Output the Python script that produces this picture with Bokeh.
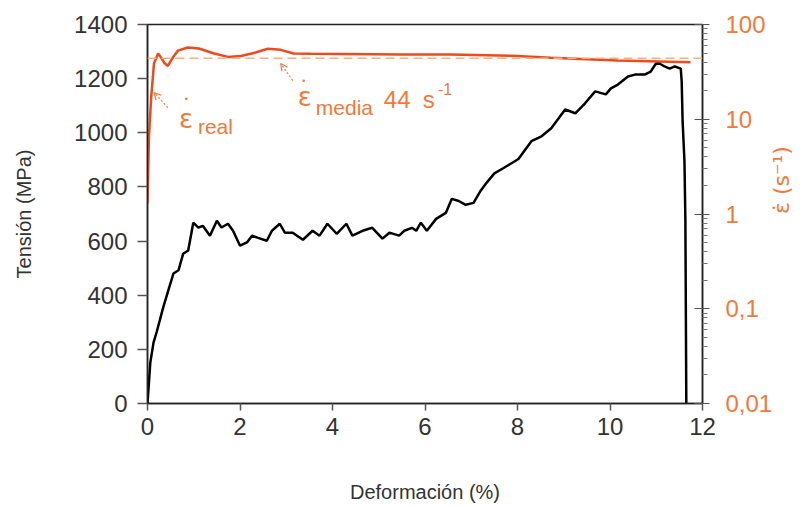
import math
from bokeh.plotting import figure
from bokeh.models import (Range1d, LogScale, LogAxis, FixedTicker, SingleIntervalTicker,
                          CustomJSTickFormatter, Span, Label, Arrow, OpenHead)
from bokeh.embed import file_html
from bokeh.resources import INLINE

# ---- data ----
strain = [0.00, 0.06, 0.13, 0.20, 0.34, 0.45, 0.56, 0.67, 0.77, 0.88,
          0.99, 1.10, 1.20, 1.35, 1.50, 1.60, 1.74, 1.85, 2.00, 2.15,
          2.26, 2.39, 2.58, 2.69, 2.86, 2.97, 3.14, 3.36, 3.57, 3.72,
          3.89, 4.09, 4.30, 4.43, 4.65, 4.86, 5.08, 5.23, 5.44, 5.55,
          5.72, 5.81, 5.91, 6.04, 6.24, 6.45, 6.58, 6.73, 6.88, 7.05,
          7.20, 7.33, 7.50, 7.70, 8.02, 8.30, 8.52, 8.73, 9.03, 9.25,
          9.46, 9.68, 9.91, 10.02, 10.17, 10.39, 10.54, 10.75, 10.88, 10.99,
          11.08, 11.18, 11.29, 11.40, 11.53, 11.55, 11.57, 11.61, 11.63, 11.65]
stress = [0, 150, 225, 265, 355, 418, 480, 492, 553, 565,
          668, 650, 656, 620, 675, 650, 664, 638, 583, 595,
          620, 612, 601, 638, 664, 631, 631, 605, 638, 620,
          664, 627, 664, 620, 638, 649, 609, 631, 620, 638,
          649, 638, 668, 638, 682, 704, 756, 748, 734, 741,
          785, 815, 850, 870, 903, 969, 987, 1017, 1086, 1072,
          1109, 1153, 1142, 1164, 1178, 1208, 1215, 1215, 1226, 1255,
          1255, 1245, 1237, 1245, 1237, 1190, 1042, 895, 675, 0]

rate_strain = [0.00, 0.03, 0.08, 0.14, 0.23, 0.29, 0.36, 0.44, 0.55, 0.66,
               0.87, 1.11, 1.44, 1.74, 2.02, 2.30, 2.60, 2.88, 3.16, 3.53,
               5.48, 6.56, 7.99, 8.72, 10.16, 11.74]
rate = [1.3, 6.4, 17, 38.7, 49.4, 45, 39.5, 36.5, 45, 53,
        57.2, 55.8, 49.4, 45.5, 46.5, 50, 55.4, 54, 49.4, 49,
        48.2, 48.2, 46.6, 44.5, 41.8, 40]

mean_rate = 44
x_ticks_interval = 2
y_ticks_interval = 200
rate_ticks = [0.01, 0.1, 1, 10, 100]
rate_minor = [m * d for d in (0.01, 0.1, 1, 10) for m in range(2, 10)]

FONT = "Liberation Sans"
ORANGE_LINE = "#ee4a1c"
ORANGE_TEXT = "#f07a3a"
DASH = "#f5b07c"

p = figure(width=811, height=507, x_range=Range1d(0, 12), y_range=Range1d(0, 1400),
           output_backend="svg", toolbar_location=None,
           min_border_left=147, min_border_right=109, min_border_top=24, min_border_bottom=104)
p.extra_y_ranges = {"rate": Range1d(0.01, 100)}
p.extra_y_scales = {"rate": LogScale()}

p.grid.visible = False
p.outline_line_color = "#222222"
p.outline_line_width = 1.5
p.background_fill_color = "white"
p.border_fill_color = "white"

# x axis
xa = p.xaxis[0]
xa.ticker = SingleIntervalTicker(interval=x_ticks_interval, num_minor_ticks=0)
xa.axis_label = "Deformación (%)"
for ax in (xa, p.yaxis[0]):
    ax.axis_line_color = "#222222"
    ax.axis_line_width = 1.5
    ax.major_tick_line_color = "#555555"
    ax.major_tick_line_width = 1.5
    ax.major_tick_in = 0
    ax.minor_tick_line_color = None
    ax.major_label_text_font = FONT
    ax.major_label_text_font_size = "24px"
    ax.major_label_text_color = "#333333"
    ax.axis_label_text_font = FONT
    ax.axis_label_text_font_size = "20px"
    ax.axis_label_text_font_style = "normal"
    ax.axis_label_text_color = "#333333"
xa.major_tick_out = 7
xa.major_label_standoff = 7
xa.axis_label_standoff = 43

ya = p.yaxis[0]
ya.ticker = SingleIntervalTicker(interval=y_ticks_interval, num_minor_ticks=0)
ya.axis_label = "Tensión (MPa)"
ya.major_tick_out = 10
ya.major_label_standoff = 10
ya.axis_label_standoff = 36

# right log axis
ra = LogAxis(y_range_name="rate")
ra.ticker = FixedTicker(ticks=rate_ticks, minor_ticks=rate_minor)
ra.formatter = CustomJSTickFormatter(code="return tick.toString().replace('.', ',');")
ra.axis_line_color = "#222222"
ra.axis_line_width = 1.5
ra.major_tick_line_color = "#555555"
ra.major_tick_in = 8
ra.major_tick_out = 7
ra.minor_tick_line_color = "#777777"
ra.minor_tick_in = 0
ra.minor_tick_out = 5
ra.major_label_standoff = 16
ra.major_label_text_font = FONT
ra.major_label_text_font_size = "24px"
ra.major_label_text_color = ORANGE_TEXT
ra.axis_label = "\u03b5\u0307 (s\u207b\u00b9)"
ra.axis_label_text_font = "DejaVu Sans"
ra.axis_label_text_font_size = "22px"
ra.axis_label_text_font_style = "normal"
ra.axis_label_text_color = ORANGE_TEXT
ra.axis_label_standoff = 6
ra.axis_label_orientation = math.pi / 2
p.add_layout(ra, "right")

# mean strain-rate line
p.add_layout(Span(location=mean_rate, dimension="width", y_range_name="rate",
                  line_color=DASH, line_width=1.5, line_dash="9 5"))

# curves
p.line(rate_strain, rate, y_range_name="rate", line_color=ORANGE_LINE, line_width=2.5)
p.line(strain, stress, line_color="black", line_width=2.5)

# annotations
def lab(x, y, t, size, align="left", baseline="alphabetic", font=FONT):
    p.add_layout(Label(x=x, y=y, text=t, text_font=font, text_font_size=size,
                       text_color=ORANGE_TEXT, text_align=align, text_baseline=baseline))

lab(0.68, 1050, "ε", "26px", font="DejaVu Sans")
lab(0.84, 1123, "•", "9px", align="center", baseline="middle")
lab(1.09, 1023, "real", "21px")

lab(3.25, 1134, "ε", "26px", font="DejaVu Sans")
lab(3.38, 1193, "•", "9px", align="center", baseline="middle")
lab(3.64, 1093, "media", "21px")
lab(5.11, 1123, "44", "24px")
lab(5.95, 1123, "s", "24px")
lab(6.28, 1160, "-1", "16px")

for xs, ys, xe, ye in ((0.44, 1093, 0.14, 1149), (3.14, 1193, 2.88, 1256)):
    p.add_layout(Arrow(end=OpenHead(size=7, line_color=ORANGE_TEXT, line_width=1.2),
                       x_start=xs, y_start=ys, x_end=xe, y_end=ye,
                       line_color=ORANGE_TEXT, line_width=1.2, line_dash="2 2"))

open("out.html", "w").write(file_html(p, INLINE))
